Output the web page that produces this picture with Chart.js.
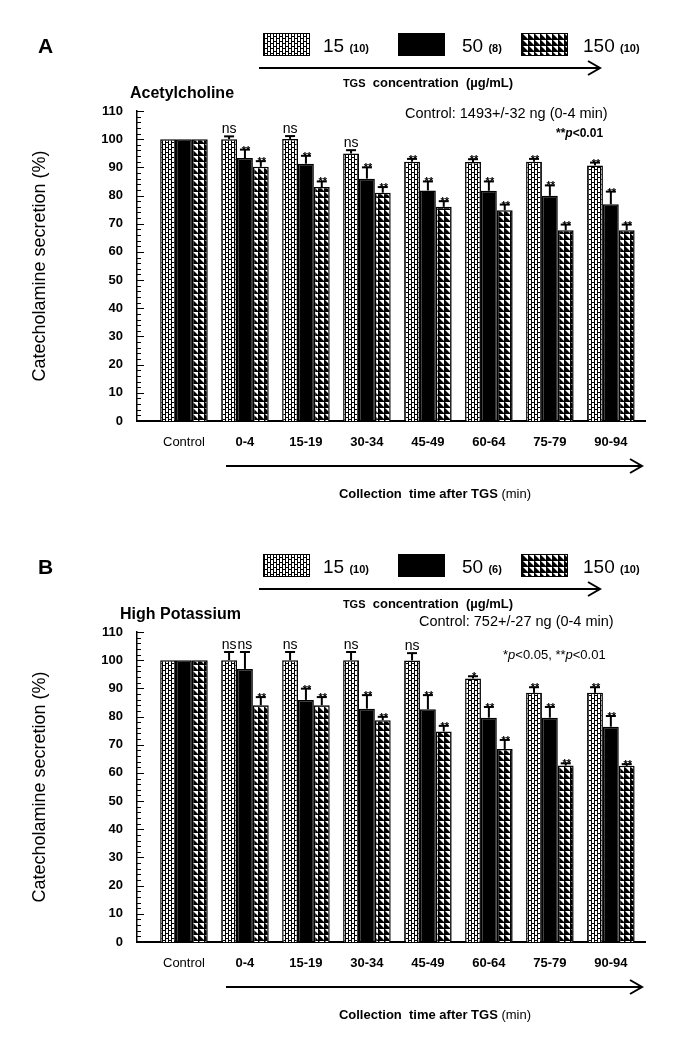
<!DOCTYPE html>
<html><head><meta charset="utf-8">
<script src="https://cdn.jsdelivr.net/npm/chart.js@4"></script>
<style>
body{margin:0;background:#fff;}
#wrap{position:relative;width:681px;height:1042px;overflow:hidden;font-family:"Liberation Sans",Arial,sans-serif;color:#000}
canvas{position:absolute;left:0}
.t{position:absolute;white-space:nowrap;line-height:1;}
.box{position:absolute;width:47px;height:23px;border:1.5px solid #000;box-sizing:border-box}
svg{position:absolute;left:0;top:0}
</style></head>
<body><div id="wrap">
<canvas id="cA" width="681" height="521" style="top:0"></canvas>
<canvas id="cB" width="681" height="521" style="top:521px"></canvas>
<svg width="681" height="1042" id="arrows"></svg>
</div>
<script>
// ---------- data ----------
const categories = ['Control','0-4','15-19','30-34','45-49','60-64','75-79','90-94'];
const seriesNames = ['15','50','150'];
const yTicks = [0,10,20,30,40,50,60,70,80,90,100,110];

// Panel A: Acetylcholine
const A15  = [100, 100, 100.1, 94.9, 92.0, 91.9, 92.0, 90.7];
const A50  = [100, 93.3, 91.3, 86.0, 81.8, 81.7, 79.9, 76.9];
const A150 = [100, 90.2, 83.0, 81.0, 76.0, 74.8, 67.7, 67.7];
const A15err  = [0, 1.0, 1.0, 1.2, 1.0, 1.0, 1.0, 1.0];
const A50err  = [0, 3.0, 2.8, 4.0, 3.2, 3.3, 3.7, 4.5];
const A150err = [0, 2.0, 2.0, 2.0, 2.0, 2.0, 2.0, 2.0];
const A15sig  = ['', 'ns','ns','ns','**','**','**','**'];
const A50sig  = ['', '**','**','**','**','**','**','**'];
const A150sig = ['', '**','**','**','**','**','**','**'];

// Panel B: High Potassium
const B15  = [100, 100, 100, 100, 99.9, 93.5, 88.4, 88.4];
const B50  = [100, 96.9, 85.9, 82.8, 82.6, 79.6, 79.6, 76.4];
const B150 = [100, 84.0, 84.0, 78.7, 74.7, 68.5, 62.6, 62.5];
const B15err  = [0, 2.9, 2.9, 2.9, 2.6, 0.8, 2.0, 2.0];
const B50err  = [0, 6.0, 4.0, 4.8, 5.0, 3.8, 3.8, 3.8];
const B150err = [0, 2.9, 2.9, 1.2, 2.0, 3.2, 0.8, 0.6];
const B15sig  = ['', 'ns','ns','ns','ns','*','**','**'];
const B50sig  = ['', 'ns','**','**','**','**','**','**'];
const B150sig = ['', '**','**','**','**','**','**','**'];

// ---------- patterns ----------
function makeCanvas(w,h){const c=document.createElement('canvas');c.width=w;c.height=h;return c;}
function brickCanvas(){
  const c=makeCanvas(6,10), g=c.getContext('2d');
  g.fillStyle='#000';g.fillRect(0,0,6,10);
  g.fillStyle='#fff';
  g.fillRect(1,0,2,4);g.fillRect(1,5,2,4);
  g.fillRect(4,0,2,2);g.fillRect(4,3,2,4);g.fillRect(4,8,2,2);
  return c;
}
function triCanvas(){
  const c=makeCanvas(6,6), g=c.getContext('2d');
  g.fillStyle='#fff';g.fillRect(0,0,6,6);
  g.fillStyle='#000';
  g.beginPath();g.moveTo(0,0);g.lineTo(0,6);g.lineTo(6,6);g.lineTo(6,5);g.lineTo(1,0);g.closePath();g.fill();
  return c;
}
const brickC=brickCanvas(), triC=triCanvas();

const FONT='"Liberation Sans", Arial, sans-serif';

// inside tick marks
const innerTicks={
  id:'innerTicks',
  afterDraw(chart){
    const ctx=chart.ctx, y=chart.scales.y, x0=chart.chartArea.left;
    ctx.save();ctx.strokeStyle='#000';ctx.lineWidth=1;
    for(let v=0; v<=110; v+=2){
      const py=Math.round(y.getPixelForValue(v))+0.5;
      const len=(v%10===0)?7:4;
      ctx.beginPath();ctx.moveTo(x0,py);ctx.lineTo(x0+len,py);ctx.stroke();
    }
    ctx.restore();
  }
};
// error bars and significance marks
const errPlugin={
  id:'errBars',
  afterDatasetsDraw(chart){
    const ctx=chart.ctx, ys=chart.scales.y;
    chart.data.datasets.forEach((ds,di)=>{
      const meta=chart.getDatasetMeta(di);
      meta.data.forEach((bar,i)=>{
        const e=ds.err[i], s=ds.sig[i];
        const topV=ds.data[i].y+e;
        const pt=ys.getPixelForValue(topV);
        ctx.save();
        if(e>0){
          ctx.strokeStyle='#000';ctx.lineWidth=2;
          ctx.beginPath();ctx.moveTo(bar.x,bar.y);ctx.lineTo(bar.x,pt);ctx.stroke();
          ctx.beginPath();ctx.moveTo(bar.x-5,pt);ctx.lineTo(bar.x+5,pt);ctx.stroke();
        }
        if(s){
          ctx.fillStyle='#000';ctx.textAlign='center';ctx.textBaseline='alphabetic';
          if(s==='ns'){ctx.font='14px '+FONT;ctx.fillText(s,bar.x,pt-3);}
          else{ctx.font='bold 11px '+FONT;ctx.fillText(s,bar.x+1,pt+4);}
        }
        ctx.restore();
      });
    });
  }
};

function makeChart(id, v15, v50, v150, e15, e50, e150, s15, s50, s150){
  const ctx=document.getElementById(id).getContext('2d');
  const pBrick=ctx.createPattern(brickC,'repeat');
  const pTri=ctx.createPattern(triC,'repeat');
  const toXY=arr=>arr.map((v,i)=>({x:i,y:v}));
  const mk=(label,arr,bg,err,sig)=>({label,data:toXY(arr),backgroundColor:bg,borderColor:'#000',borderWidth:1.5,borderSkipped:'bottom',err,sig,categoryPercentage:0.78,barPercentage:1});
  return new Chart(ctx,{
    type:'bar',
    data:{datasets:[
      mk(seriesNames[0],v15,pBrick,e15,s15),
      mk(seriesNames[1],v50,'#000',e50,s50),
      mk(seriesNames[2],v150,pTri,e150,s150)
    ]},
    options:{
      responsive:false,animation:false,devicePixelRatio:1,
      layout:{padding:{left:0,right:36,top:111,bottom:0}},
      plugins:{legend:{display:false},tooltip:{enabled:false}},
      scales:{
        x:{type:'linear',min:-0.77,max:7.56,offset:false,
          afterBuildTicks:s=>{s.ticks=categories.map((c,i)=>({value:i}));},
          afterFit:s=>{s.height=100;},
          grid:{display:false,drawTicks:false},
          border:{display:true,color:'#000',width:2},
          ticks:{autoSkip:false,maxRotation:0,padding:14,color:'#000',
            callback:v=>categories[v],
            font:c=>({family:FONT,size:13,weight:(c.index===0?'normal':'bold')})}
        },
        y:{min:0,max:110,
          afterBuildTicks:s=>{s.ticks=yTicks.map(v=>({value:v}));},
          afterFit:s=>{s.width=137;},
          grid:{display:false,drawTicks:false},
          border:{display:true,color:'#000',width:1.5},
          ticks:{padding:14,color:'#000',font:{family:FONT,size:13,weight:'bold'}},
          title:{display:true,text:'Catecholamine secretion (%)',color:'#000',font:{family:FONT,size:18},padding:{top:29,bottom:0}}
        }
      }
    },
    plugins:[innerTicks,errPlugin]
  });
}
makeChart('cA',A15,A50,A150,A15err,A50err,A150err,A15sig,A50sig,A150sig);
makeChart('cB',B15,B50,B150,B15err,B50err,B150err,B15sig,B50sig,B150sig);

// ---------- overlays ----------
const wrap=document.getElementById('wrap');
function txt(x,y,html,style,center){
  const d=document.createElement('div');d.className='t';d.innerHTML=html;
  d.style.cssText+=';left:'+x+'px;top:'+y+'px;'+(style||'')+';transform:translate('+(center?'-50%':'0')+',-50%)';
  wrap.appendChild(d);
}
function box(x,y,c){
  const d=document.createElement('div');d.className='box';
  d.style.left=x+'px';d.style.top=y+'px';
  if(c) d.style.background='url('+c.toDataURL()+') repeat';
  else d.style.background='#000';
  wrap.appendChild(d);
}
const svg=document.getElementById('arrows');
function arrow(x1,x2,y){
  const ns='http://www.w3.org/2000/svg';
  const l=document.createElementNS(ns,'line');
  l.setAttribute('x1',x1);l.setAttribute('x2',x2);l.setAttribute('y1',y);l.setAttribute('y2',y);
  l.setAttribute('stroke','#000');l.setAttribute('stroke-width','2');svg.appendChild(l);
  const p=document.createElementNS(ns,'polyline');
  p.setAttribute('points',(x2-12)+','+(y-7)+' '+x2+','+y+' '+(x2-12)+','+(y+7));
  p.setAttribute('fill','none');p.setAttribute('stroke','#000');p.setAttribute('stroke-width','2');svg.appendChild(p);
}
const sm='<span style="font-size:11px;font-weight:bold">';
function panel(off,letter,title,titleX,control,controlX,controlY,pText,pX,pStyle,sizes){
  txt(38,45+off,letter,'font-weight:bold;font-size:21px');
  box(263,33+off,brickC); txt(323,45+off,'15 '+sm+'('+sizes[0]+')</span>','font-size:19px');
  box(398,33+off,null);   txt(462,45+off,'50 '+sm+'('+sizes[1]+')</span>','font-size:19px');
  box(521,33+off,triC);   txt(583,45+off,'150 '+sm+'('+sizes[2]+')</span>','font-size:19px');
  arrow(259,600,68+off);
  txt(428,82+off,'<span style="font-size:11px">TGS</span>&nbsp; concentration&nbsp; (µg/mL)','font-weight:bold;font-size:13px',true);
  txt(titleX,93+off,title,'font-weight:bold;font-size:16px');
  txt(controlX,controlY+off,control,'font-size:14.5px');
  txt(pX,133+off,pText,pStyle);
  arrow(226,642,466+off);
  txt(435,493+off,'Collection&nbsp; time after TGS <span style="font-weight:normal">(min)</span>','font-weight:bold;font-size:13px',true);
}
panel(0,'A','Acetylcholine',130,'Control: 1493+/-32 ng (0-4 min)',405,113,'**<i>p</i>&lt;0.01',556,'font-weight:bold;font-size:12px',['10','8','10']);
panel(521,'B','High Potassium',120,'Control: 752+/-27 ng (0-4 min)',419,100,'*<i>p</i>&lt;0.05, **<i>p</i>&lt;0.01',503,'font-size:13px',['10','6','10']);
</script>
</body></html>
